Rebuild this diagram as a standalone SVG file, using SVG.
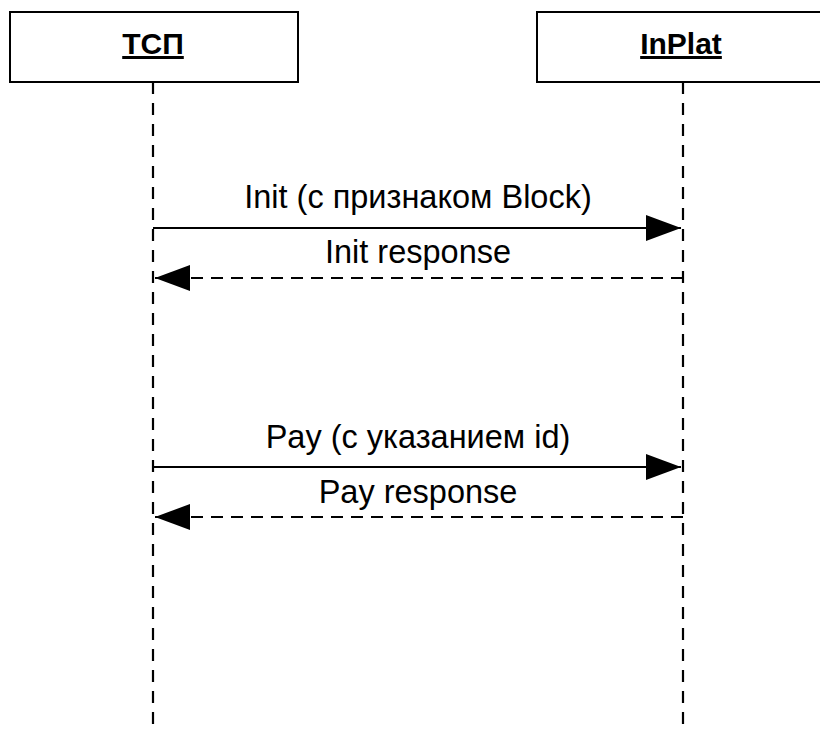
<svg xmlns="http://www.w3.org/2000/svg" width="820" height="730" viewBox="0 0 820 730">
  <style>
    .box { fill: #ffffff; stroke: #000000; stroke-width: 2; }
    .head { font-family: "Liberation Sans", Arial, sans-serif; font-size: 30px; font-weight: bold; text-anchor: middle; text-decoration: underline; fill: #000; }
    .life { stroke: #000; stroke-width: 2.2; stroke-dasharray: 12 9; fill: none; }
    .msg { stroke: #000; stroke-width: 2.2; fill: none; }
    .dash { stroke-dasharray: 12 8; }
    .lbl { font-family: "Liberation Sans", Arial, sans-serif; font-size: 32.5px; text-anchor: middle; fill: #000; }
  </style>
  <defs>
    <marker id="arrow" markerUnits="userSpaceOnUse" markerWidth="36" markerHeight="28" refX="35" refY="13" orient="auto">
      <path d="M0,0 L35,13 L0,26 Z" fill="#000"/>
    </marker>
  </defs>
  <rect width="820" height="730" fill="#ffffff"/>

  <g id="tsp">
    <line class="life" x1="153" y1="82" x2="153" y2="730"/>
    <rect class="box" x="10" y="12" width="288" height="70"/>
    <text class="head" x="153" y="54">ТСП</text>
  </g>

  <g id="inplat">
    <line class="life" x1="683" y1="82" x2="683" y2="730"/>
    <rect class="box" x="537" y="12" width="292" height="70"/>
    <text class="head" x="681" y="54">InPlat</text>
  </g>

  <g id="connectors">
    <g id="init">
      <line class="msg" x1="153" y1="228" x2="681" y2="228" marker-end="url(#arrow)"/>
      <text class="lbl" x="418" y="208">Init (с признаком Block)</text>
    </g>
    <g id="init-response">
      <line class="msg dash" x1="683" y1="278" x2="155" y2="278" marker-end="url(#arrow)"/>
      <text class="lbl" x="418" y="263">Init response</text>
    </g>
    <g id="pay">
      <line class="msg" x1="153" y1="467" x2="681" y2="467" marker-end="url(#arrow)"/>
      <text class="lbl" x="418" y="448">Pay (с указанием id)</text>
    </g>
    <g id="pay-response">
      <line class="msg dash" x1="683" y1="517" x2="155" y2="517" marker-end="url(#arrow)"/>
      <text class="lbl" x="418" y="503">Pay response</text>
    </g>
  </g>
</svg>
